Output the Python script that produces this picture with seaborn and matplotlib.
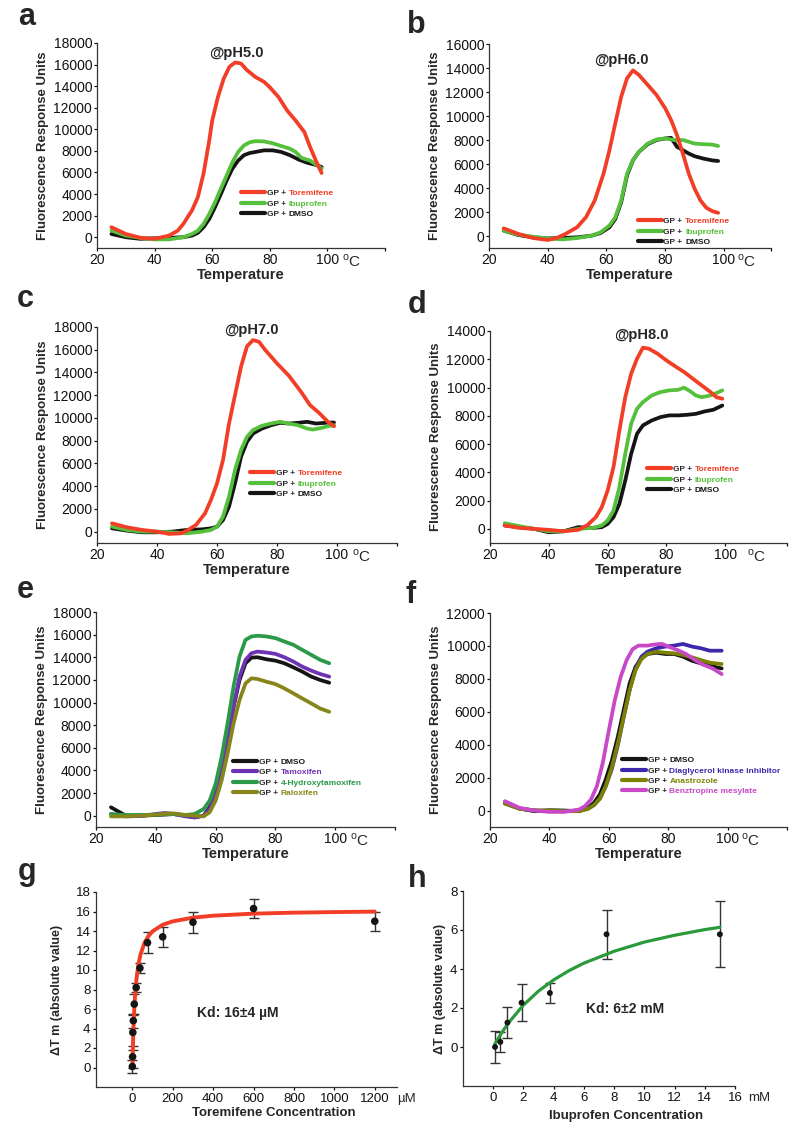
import numpy as np
import pandas as pd
import matplotlib
matplotlib.use('Agg')
import matplotlib.pyplot as plt
import seaborn as sns
from matplotlib.lines import Line2D

# ---- thermal shift curves, temperature in C, RFU ----
# a : pH 5.0
a_T_tor = [25, 30, 35, 40, 45, 48, 50, 53, 55, 57, 59, 60, 62, 64, 66, 68, 70, 72, 75, 78, 80, 83, 86, 89, 92, 94, 96, 98]
a_tor = [930, 300, -50, -150, 150, 600, 1240, 2500, 3700, 5900, 9000, 10800, 13000, 14700, 15800, 16200, 16100, 15500,
         14850, 14400, 13900, 13000, 11750, 10800, 9750, 8350, 7100, 5950]
a_T_ibu = [25, 30, 35, 40, 45, 50, 53, 55, 57, 59, 61, 63, 65, 67, 69, 71, 73, 75, 78, 81, 84, 87, 89, 91, 94, 96, 98]
a_ibu = [620, 150, -60, -200, -200, 0, 300, 600, 1240, 2150, 3250, 4500, 5700, 6950, 7900, 8500, 8800, 8900, 8880,
         8700, 8450, 8200, 7900, 7350, 7100, 6750, 6350]
a_T_dmso = [25, 30, 35, 40, 45, 50, 53, 55, 57, 59, 61, 63, 65, 67, 69, 71, 73, 75, 78, 81, 84, 87, 90, 93, 96, 98]
a_dmso = [300, 0, -150, -100, -60, 0, 150, 400, 930, 1700, 2800, 4000, 5250, 6350, 7100, 7600, 7800, 7900, 8050, 8050,
          7900, 7600, 7200, 6900, 6700, 6500]

# b : pH 6.0
b_T_tor = [25, 30, 35, 40, 43, 46, 50, 53, 56, 59, 61, 63, 65, 67, 69, 71, 74, 77, 80, 82, 84, 86, 88, 90, 92, 94, 96, 98]
b_tor = [640, 170, -170, -330, -170, 170, 730, 1560, 2960, 5200, 7150, 9400, 11600, 13150, 13800, 13430, 12600, 11760,
         10640, 9660, 8400, 6870, 5200, 3940, 2960, 2350, 2070, 1930]
b_T_ibu = [25, 30, 35, 40, 45, 50, 55, 58, 61, 63, 65, 66, 67, 69, 71, 74, 77, 80, 83, 86, 88, 90, 93, 96, 98]
b_ibu = [450, 110, -60, -200, -280, -170, 30, 310, 870, 1560, 2960, 4080, 5200, 6300, 7000, 7700, 8040, 8130, 8000,
         8000, 7850, 7700, 7650, 7620, 7500]
b_T_dmso = [25, 30, 35, 40, 45, 50, 55, 58, 61, 63, 65, 66, 67, 69, 71, 74, 77, 80, 82, 84, 86, 88, 90, 93, 96, 98]
b_dmso = [450, 80, -110, -200, -170, -110, 30, 250, 730, 1420, 2820, 3940, 5060, 6300, 7000, 7650, 8000, 8130, 8180,
          7430, 7150, 6870, 6650, 6450, 6300, 6250]

# c : pH 7.0
c_T_tor = [25, 30, 35, 40, 44, 48, 50, 53, 56, 58, 60, 62, 64, 66, 68, 70, 72, 74, 76, 78, 80, 84, 88, 91, 94, 97, 99]
c_tor = [730, 380, 150, 0, -200, -150, 90, 590, 1600, 2800, 4240, 6300, 9500, 12000, 14500, 16300, 16850, 16700, 16000,
         15400, 14800, 13700, 12300, 11130, 10450, 9650, 9270]
c_T_ibu = [25, 30, 35, 40, 45, 50, 55, 58, 60, 62, 64, 66, 68, 70, 72, 75, 78, 81, 84, 87, 90, 92, 95, 97, 99]
c_ibu = [440, 150, 0, 0, -60, -150, 0, 150, 440, 1320, 3070, 5410, 7170, 8340, 8930, 9310, 9510, 9660, 9510, 9360,
         9070, 8980, 9130, 9280, 9360]
c_T_dmso = [25, 30, 35, 40, 45, 50, 55, 58, 60, 62, 64, 66, 68, 70, 72, 75, 78, 81, 84, 87, 90, 93, 96, 99]
c_dmso = [290, 90, -60, -60, 0, 150, 200, 290, 440, 1020, 2200, 4240, 6580, 7900, 8630, 9070, 9360, 9570, 9510, 9570,
          9660, 9510, 9570, 9600]

# d : pH 8.0
d_T_tor = [25, 30, 35, 40, 45, 50, 53, 56, 58, 60, 62, 64, 66, 68, 70, 72, 74, 77, 80, 83, 86, 89, 92, 95, 97, 99]
d_tor = [240, 70, 0, -70, -170, -70, 240, 830, 1530, 2710, 4370, 6960, 9320, 10980, 12040, 12820, 12750, 12390, 11920,
         11500, 11100, 10620, 10150, 9680, 9320, 9210]
d_T_ibu = [25, 30, 35, 40, 45, 50, 55, 58, 60, 62, 64, 66, 68, 70, 72, 75, 78, 81, 84, 86, 88, 90, 92, 95, 97, 99]
d_ibu = [400, 190, 0, -170, -170, 0, 70, 240, 590, 1300, 2950, 5310, 7440, 8500, 8970, 9440, 9680, 9800, 9840, 9990,
         9750, 9440, 9320, 9440, 9610, 9800]
d_T_dmso = [25, 30, 35, 40, 45, 50, 55, 58, 60, 62, 64, 66, 68, 70, 72, 75, 78, 81, 84, 87, 90, 93, 96, 99]
d_dmso = [240, 120, 0, -240, -170, 120, 70, 120, 350, 830, 1770, 3420, 5310, 6730, 7320, 7670, 7910, 8030, 8030, 8070,
          8140, 8310, 8430, 8730]

# e : SERMs
e_T = [25, 27, 30, 35, 40, 43, 46, 50, 53, 56, 58, 60, 62, 64, 66, 68, 70, 72, 74, 77, 80, 83, 86, 89, 92, 95, 98]
e_dmso = [740, 440, 0, 0, 60, 100, 140, 0, -150, 0, 740, 2220, 4290, 6960, 9620, 11990, 13470, 13970, 14000, 13820,
          13700, 13470, 13110, 12730, 12290, 11990, 11750]
e_tam = [150, 50, -60, -30, 150, 240, 150, -60, -150, 0, 590, 1920, 4000, 6660, 9620, 12290, 13770, 14360, 14500,
         14420, 14300, 14000, 13620, 13170, 12820, 12520, 12290]
e_oht = [150, 100, 60, 60, 90, 120, 150, 60, 150, 590, 1330, 2810, 5180, 8140, 11400, 14060, 15540, 15840, 15900,
         15840, 15690, 15390, 15100, 14650, 14210, 13770, 13470]
e_ral = [-60, -60, -60, 0, 90, 180, 200, 50, 0, -60, 300, 1330, 3110, 5480, 8140, 10220, 11690, 12140, 12080, 11840,
         11630, 11250, 10810, 10360, 9920, 9470, 9180]

# f : other hits
f_T = [25, 30, 35, 40, 45, 50, 53, 55, 57, 59, 61, 63, 65, 67, 69, 71, 73, 76, 79, 82, 85, 88, 91, 94, 98]
f_dmso = [470, 120, -40, 20, 0, -40, 160, 470, 980, 1900, 3020, 4450, 6080, 7710, 8730, 9240, 9510, 9590, 9510, 9510,
          9350, 9100, 8940, 8800, 8630]
f_dgk = [430, 120, 0, -40, -40, 0, 120, 330, 730, 1490, 2510, 3940, 5670, 7310, 8630, 9350, 9650, 9860, 9960, 10020,
         10120, 9960, 9860, 9710, 9710]
f_ana = [430, 100, 20, 0, -40, -40, 100, 330, 730, 1490, 2610, 4040, 5670, 7310, 8530, 9200, 9510, 9650, 9590, 9550,
         9450, 9310, 9140, 8980, 8900]
f_T_benz = [25, 30, 35, 40, 45, 50, 52, 54, 56, 58, 60, 62, 64, 66, 68, 70, 73, 76, 78, 80, 83, 86, 89, 92, 95, 98]
f_benz = [570, 160, 0, -80, -80, 60, 270, 670, 1490, 2920, 4860, 6690, 8120, 9140, 9800, 10020, 10020, 10100, 10120,
          9960, 9760, 9510, 9140, 8840, 8630, 8290]

# ---- dose response ----
g_conc = [0, 1.2, 2.3, 4.7, 9.4, 18.75, 37.5, 75, 150, 300, 600, 1200]
g_dtm = [0.1, 1.1, 3.6, 4.8, 6.5, 8.2, 10.2, 12.8, 13.4, 14.9, 16.3, 15.0]
g_err = [0.7, 1.1, 1.8, 0.7, 1.0, 0.5, 0.5, 1.1, 1.0, 1.1, 1.0, 1.0]
g_fit_x = [0, 5, 10, 15, 20, 30, 40, 60, 80, 100, 150, 200, 300, 400, 600, 800, 1000, 1200]
g_fit_y = [0, 3.84, 6.23, 7.84, 9.0, 10.57, 11.57, 12.79, 13.5, 13.97, 14.64, 14.99, 15.37, 15.57, 15.78, 15.88,
           15.94, 15.99]

h_conc = [0.12, 0.47, 0.94, 1.875, 3.75, 7.5, 15]
h_dtm = [0.0, 0.26, 1.25, 2.27, 2.77, 5.78, 5.78]
h_err = [0.8, 0.5, 0.8, 0.95, 0.5, 1.25, 1.7]
h_fit_x = [0.1, 0.5, 1, 2, 3, 4, 5, 6, 8, 10, 12, 14, 15]
h_fit_y = [0.14, 0.66, 1.23, 2.15, 2.87, 3.44, 3.91, 4.3, 4.91, 5.38, 5.73, 6.02, 6.14]

RED = '#f23e26'
LGREEN = '#55c03c'
BLACK = '#151515'
PURPLE = '#6e32b4'
DGREEN = '#2a9a48'
OLIVE = '#86861a'
BLUE = '#3c28aa'
OLIVE2 = '#7a8200'
MAGENTA = '#c848c8'

sns.set_style('ticks')
plt.rcParams['font.family'] = ['Liberation Sans', 'DejaVu Sans']
plt.rcParams['mathtext.fontset'] = 'custom'
plt.rcParams['mathtext.rm'] = 'Liberation Sans'
plt.rcParams['axes.edgecolor'] = '#333333'
plt.rcParams['axes.linewidth'] = 0.9

fig = plt.figure(figsize=(8, 11.37), dpi=100)
H = 1137.0


def add_axes(left, top, right, bottom):
    return fig.add_axes([left / 800, 1 - bottom / H, (right - left) / 800, (bottom - top) / H])


def draw_curves(ax, curves, colors, lw=2.7):
    frames = []
    for name, (t, v) in curves.items():
        frames.append(pd.DataFrame({'temp': t, 'rfu': v, 'sample': name}))
    df = pd.concat(frames, ignore_index=True)
    sns.lineplot(data=df, x='temp', y='rfu', hue='sample', palette=dict(zip(curves.keys(), colors)),
                 estimator=None, linewidth=lw, legend=False, ax=ax)


def two_tone_legend(ax, names, colors, anchor):
    handles = [Line2D([], [], color=c, lw=3) for c in colors]
    leg = ax.legend(handles, ['GP +'] * len(names), loc='upper left', bbox_to_anchor=anchor, frameon=False,
                    prop={'size': 6, 'weight': 'bold'}, handlelength=2.9, handletextpad=0.2,
                    labelspacing=0.3, borderpad=0, borderaxespad=0)
    for txt, name, c in zip(leg.get_texts(), names, colors):
        ax.annotate(name, xy=(1, 0), xycoords=txt, xytext=(1.8, 0), textcoords='offset points',
                    color=c, fontsize=6, fontweight='bold', va='bottom', ha='left', zorder=7)


def style_temp_axis(ax, xmax, ymax, deg_x):
    ax.set_xlim(20, xmax)
    ax.set_ylim(-1000, ymax)
    ax.set_xticks([20, 40, 60, 80, 100, xmax])
    ax.set_xticklabels(['20', '40', '60', '80', '100', ''])
    ax.set_yticks(np.arange(0, ymax + 1, 2000))
    ax.tick_params(labelsize=10, length=2.5, width=0.9, pad=1, colors='#111111')
    ax.set_xlabel('Temperature', fontsize=10.5, fontweight='bold', labelpad=0.5)
    ax.set_ylabel('Fluorescence Response Units', fontsize=9.5, fontweight='bold', labelpad=3)
    ax.annotate(r'$^{\rm o}$C', xy=(deg_x, 0), xycoords=('data', 'axes fraction'), xytext=(0, -3.5),
                textcoords='offset points', ha='left', va='top', fontsize=11)
    sns.despine(ax=ax)


ph_names = ['Toremifene', 'Ibuprofen', 'DMSO']
ph_colors = [RED, LGREEN, BLACK]

# a
ax = add_axes(97, 43, 385, 248)
draw_curves(ax, {'DMSO': (a_T_dmso, a_dmso), 'Ibuprofen': (a_T_ibu, a_ibu), 'Toremifene': (a_T_tor, a_tor)},
            [BLACK, LGREEN, RED])
style_temp_axis(ax, 120, 18000, 105)
ax.text(68.3, 17070, '@pH5.0', ha='center', va='center', fontsize=10.5, fontweight='bold')
two_tone_legend(ax, ph_names, ph_colors, (0.50, 0.286))

# b
ax = add_axes(489, 44, 771, 248)
draw_curves(ax, {'DMSO': (b_T_dmso, b_dmso), 'Ibuprofen': (b_T_ibu, b_ibu), 'Toremifene': (b_T_tor, b_tor)},
            [BLACK, LGREEN, RED])
style_temp_axis(ax, 116, 16000, 104.5)
ax.text(65, 14660, '@pH6.0', ha='center', va='center', fontsize=10.5, fontweight='bold')
two_tone_legend(ax, ph_names, ph_colors, (0.527, 0.15))

# c
ax = add_axes(97, 327, 397, 543)
draw_curves(ax, {'DMSO': (c_T_dmso, c_dmso), 'Ibuprofen': (c_T_ibu, c_ibu), 'Toremifene': (c_T_tor, c_tor)},
            [BLACK, LGREEN, RED])
style_temp_axis(ax, 120, 18000, 105)
ax.text(71.3, 17740, '@pH7.0', ha='center', va='center', fontsize=10.5, fontweight='bold')
two_tone_legend(ax, ph_names, ph_colors, (0.51, 0.341))

# d
ax = add_axes(490, 331, 787, 543)
draw_curves(ax, {'DMSO': (d_T_dmso, d_dmso), 'Ibuprofen': (d_T_ibu, d_ibu), 'Toremifene': (d_T_tor, d_tor)},
            [BLACK, LGREEN, RED])
style_temp_axis(ax, 121, 14000, 107.5)
ax.text(71.4, 13700, '@pH8.0', ha='center', va='center', fontsize=10.5, fontweight='bold')
two_tone_legend(ax, ph_names, ph_colors, (0.529, 0.366))

# e
ax = add_axes(96, 612, 395, 827)
draw_curves(ax, {'DMSO': (e_T, e_dmso), 'Tamoxifen': (e_T, e_tam), '4-Hydroxytamoxifen': (e_T, e_oht),
                 'Raloxifen': (e_T, e_ral)}, [BLACK, PURPLE, DGREEN, OLIVE])
style_temp_axis(ax, 120, 18000, 105)
two_tone_legend(ax, ['DMSO', 'Tamoxifen', '4-Hydroxytamoxifen', 'Raloxifen'], [BLACK, PURPLE, DGREEN, OLIVE],
                (0.458, 0.32))

# f
ax = add_axes(490, 613, 787, 827)
draw_curves(ax, {'DMSO': (f_T, f_dmso), 'Diaglycerol kinase inhibitor': (f_T, f_dgk), 'Anastrozole': (f_T, f_ana),
                 'Benztropine mesylate': (f_T_benz, f_benz)}, [BLACK, BLUE, OLIVE2, MAGENTA])
style_temp_axis(ax, 120, 12000, 104.5)
two_tone_legend(ax, ['DMSO', 'Diaglycerol kinase inhibitor', 'Anastrozole', 'Benztropine mesylate'],
                [BLACK, BLUE, OLIVE2, MAGENTA], (0.444, 0.33))


def dose_panel(ax, conc, dtm, err, fx, fy, color, msize, lw):
    ax.errorbar(conc, dtm, yerr=err, fmt='none', ecolor='#333333', elinewidth=1, capsize=3.5, capthick=1, zorder=2)
    sns.lineplot(x=fx, y=fy, color=color, linewidth=lw, ax=ax, zorder=3)
    sns.scatterplot(x=conc, y=dtm, color='#151515', s=msize, edgecolor='none', ax=ax, zorder=4)
    ax.tick_params(labelsize=9.5, length=2.5, width=0.9, pad=1.5, colors='#111111')
    sns.despine(ax=ax)


# g
ax = add_axes(96, 892, 397, 1087)
dose_panel(ax, g_conc, g_dtm, g_err, g_fit_x, g_fit_y, RED, 30, 2.8)
ax.set_xlim(-180, 1310)
ax.set_ylim(-2, 18)
ax.set_xticks(np.arange(0, 1201, 200))
ax.set_yticks(np.arange(0, 19, 2))
ax.set_ylabel('ΔT m (absolute value)', fontsize=9, fontweight='bold', labelpad=9)
ax.set_xlabel('Toremifene Concentration', fontsize=9.5, fontweight='bold')
ax.xaxis.set_label_coords(0.59, -0.105)
ax.text(523, 5.55, 'Kd: 16±4 µM', ha='center', va='center', fontsize=10, fontweight='bold')
ax.annotate('µM', xy=(1.0, 0), xycoords='axes fraction', xytext=(0, -4), textcoords='offset points',
            ha='left', va='top', fontsize=9.5)

# h
ax = add_axes(463, 891, 735, 1086)
dose_panel(ax, h_conc, h_dtm, h_err, h_fit_x, h_fit_y, '#2a9a3a', 18, 2.3)
ax.set_xlim(-2, 16)
ax.set_ylim(-2, 8)
ax.set_xticks(np.arange(0, 17, 2))
ax.set_yticks(np.arange(0, 9, 2))
ax.set_ylabel('ΔT m (absolute value)', fontsize=9, fontweight='bold', labelpad=3)
ax.set_xlabel('Ibuprofen Concentration', fontsize=9.5, fontweight='bold')
ax.xaxis.set_label_coords(0.6, -0.125)
ax.text(8.75, 1.95, 'Kd: 6±2 mM', ha='center', va='center', fontsize=10, fontweight='bold')
ax.annotate('mM', xy=(16.9, 0), xycoords=('data', 'axes fraction'), xytext=(0, -4), textcoords='offset points',
            ha='left', va='top', fontsize=9.5)

# panel letters
for letter, x, y in [('a', 18, 25), ('b', 407, 33), ('c', 17, 307), ('d', 408, 313),
                     ('e', 17, 598), ('f', 405, 603), ('g', 18, 880), ('h', 408, 887)]:
    fig.text(x / 800, 1 - y / H, letter, fontsize=22, fontweight='bold', ha='left', va='baseline')

fig.savefig('out.png', dpi=100)
